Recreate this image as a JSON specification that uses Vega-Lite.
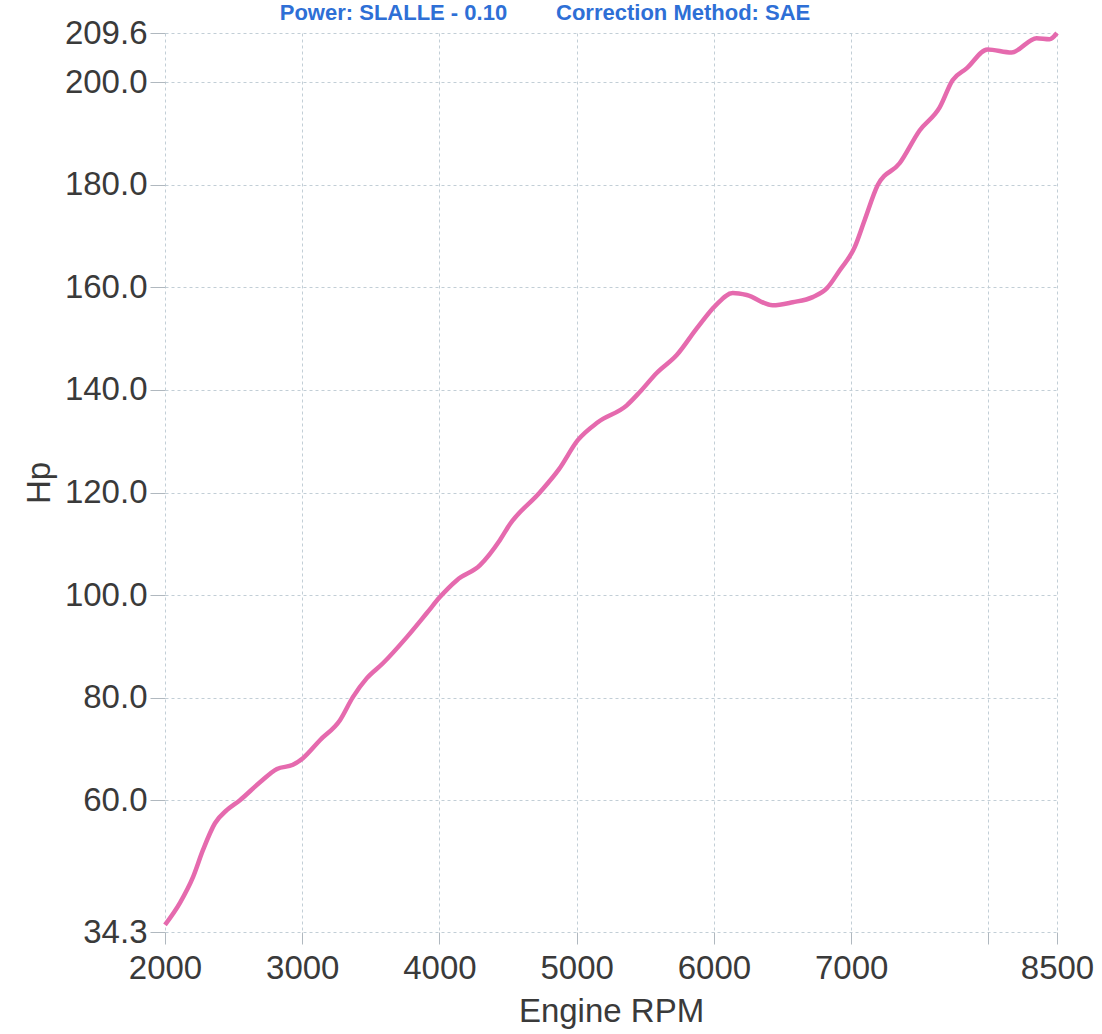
{
  "$schema": "https://vega.github.io/schema/vega-lite/v6.json",
  "autosize": {"type": "none"},
  "width": 892,
  "height": 899,
  "padding": {"left": 165, "top": 33, "right": 45, "bottom": 102},
  "background": "#ffffff",
  "title": {
    "text": "Power: SLALLE - 0.10\u00a0\u00a0\u00a0\u00a0\u00a0\u00a0\u00a0\u00a0Correction Method: SAE",
    "color": "#2e6fd6",
    "font": "Liberation Sans",
    "fontSize": 22,
    "fontWeight": "bold",
    "offset": 8,
    "dy": 16,
    "dx": -66,
    "anchor": "middle"
  },
  "config": {
    "view": {"stroke": null, "fill": "#ffffff"},
    "axis": {
      "labelFont": "Liberation Sans",
      "titleFont": "Liberation Sans",
      "labelFontSize": 33,
      "titleFontSize": 33,
      "labelColor": "#3a3a3a",
      "titleColor": "#3a3a3a",
      "titleFontWeight": "normal",
      "domain": false,
      "gridColor": "#c2ced6",
      "gridDash": [3, 3],
      "gridWidth": 1,
      "tickColor": "#b0b8bf"
    }
  },
  "data": {
    "values": [
      {"rpm": 2000, "hp": 35.7},
      {"rpm": 2109, "hp": 40.0},
      {"rpm": 2204, "hp": 45.0},
      {"rpm": 2277, "hp": 50.3},
      {"rpm": 2364, "hp": 55.5},
      {"rpm": 2452, "hp": 58.1},
      {"rpm": 2546, "hp": 60.0},
      {"rpm": 2692, "hp": 63.5},
      {"rpm": 2816, "hp": 66.1},
      {"rpm": 2932, "hp": 66.9},
      {"rpm": 3005, "hp": 68.2},
      {"rpm": 3129, "hp": 71.7},
      {"rpm": 3275, "hp": 75.6},
      {"rpm": 3369, "hp": 80.1},
      {"rpm": 3471, "hp": 83.8},
      {"rpm": 3588, "hp": 86.7},
      {"rpm": 3762, "hp": 91.8},
      {"rpm": 3908, "hp": 96.5},
      {"rpm": 4003, "hp": 99.6},
      {"rpm": 4127, "hp": 102.9},
      {"rpm": 4294, "hp": 105.8},
      {"rpm": 4440, "hp": 110.7},
      {"rpm": 4513, "hp": 113.8},
      {"rpm": 4731, "hp": 120.0},
      {"rpm": 4870, "hp": 124.5},
      {"rpm": 5008, "hp": 130.2},
      {"rpm": 5154, "hp": 133.7},
      {"rpm": 5365, "hp": 137.0},
      {"rpm": 5460, "hp": 139.6},
      {"rpm": 5583, "hp": 143.3},
      {"rpm": 5729, "hp": 146.8},
      {"rpm": 5875, "hp": 152.0},
      {"rpm": 6013, "hp": 156.5},
      {"rpm": 6137, "hp": 158.9},
      {"rpm": 6239, "hp": 158.5},
      {"rpm": 6428, "hp": 156.5},
      {"rpm": 6574, "hp": 157.1},
      {"rpm": 6720, "hp": 158.1},
      {"rpm": 6822, "hp": 159.8},
      {"rpm": 6916, "hp": 163.3},
      {"rpm": 7025, "hp": 167.8},
      {"rpm": 7098, "hp": 173.1},
      {"rpm": 7193, "hp": 179.9},
      {"rpm": 7353, "hp": 184.2},
      {"rpm": 7499, "hp": 190.6},
      {"rpm": 7645, "hp": 195.1},
      {"rpm": 7739, "hp": 200.4},
      {"rpm": 7841, "hp": 202.7},
      {"rpm": 7994, "hp": 206.4},
      {"rpm": 8169, "hp": 205.8},
      {"rpm": 8351, "hp": 208.6},
      {"rpm": 8446, "hp": 208.4},
      {"rpm": 8500, "hp": 209.6}
    ]
  },
  "mark": {"type": "line", "color": "#e56aae", "strokeWidth": 4.5, "interpolate": "monotone"},
  "encoding": {
    "x": {
      "field": "rpm",
      "type": "quantitative",
      "scale": {"domain": [2000, 8500], "nice": false, "zero": false},
      "axis": {
        "title": "Engine RPM",
        "values": [2000, 3000, 4000, 5000, 6000, 7000, 8000, 8500],
        "labelExpr": "datum.value == 8000 ? '' : datum.label",
        "format": "d",
        "tickSize": 12,
        "labelPadding": 8,
        "titlePadding": 10,
        "labelFlush": false,
        "labelOverlap": false
      }
    },
    "y": {
      "field": "hp",
      "type": "quantitative",
      "scale": {"domain": [34.3, 209.6], "nice": false, "zero": false},
      "axis": {
        "title": "Hp",
        "values": [34.3, 60, 80, 100, 120, 140, 160, 180, 200, 209.6],
        "format": ".1f",
        "tickSize": 15,
        "labelPadding": 3,
        "titlePadding": 8,
        "labelFlush": false,
        "labelOverlap": false
      }
    }
  }
}
